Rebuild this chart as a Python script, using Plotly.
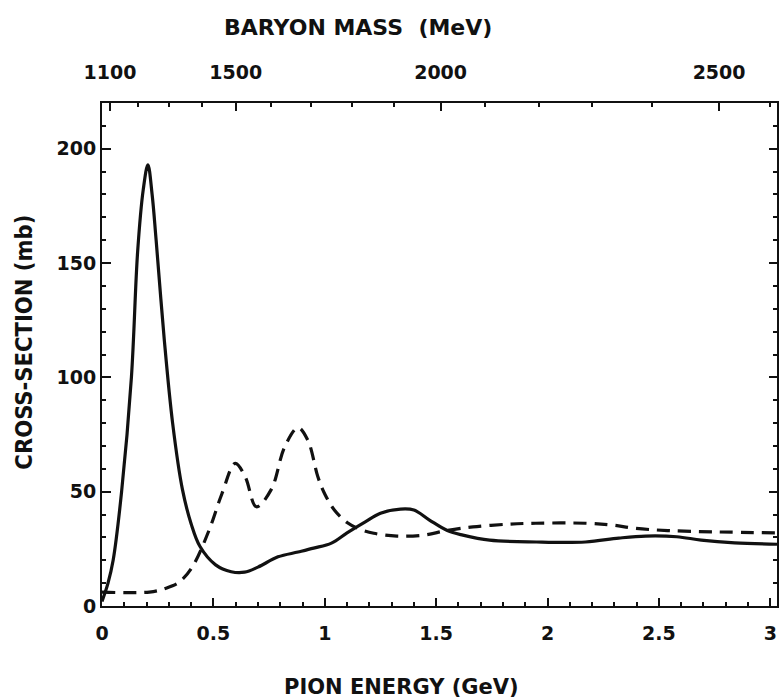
import plotly.graph_objects as go

# Solid curve (pion energy GeV, cross-section mb)
solid_x = [0, 0.027, 0.05, 0.088, 0.132, 0.16, 0.185, 0.206, 0.225, 0.243, 0.28, 0.317, 0.361,
           0.40, 0.44, 0.51, 0.58, 0.64, 0.70, 0.79, 0.88, 0.95, 1.03, 1.10, 1.18, 1.25, 1.34,
           1.40, 1.47, 1.55, 1.62, 1.74, 1.95, 2.17, 2.32, 2.44, 2.58, 2.69, 2.84, 3.03]
solid_y = [2, 10, 20, 50, 100, 155, 182, 193, 180, 160, 116, 80, 51,
           36, 26, 18, 15, 14.8, 17, 21.5, 23.6, 25.3, 27.5, 32, 36.7, 40.6, 42.4,
           42, 37.6, 33, 31, 28.8, 28, 28, 29.7, 30.6, 30.3, 28.8, 27.6, 27]

# Dashed curve
dash_x = [0, 0.213, 0.287, 0.347, 0.405, 0.48, 0.538, 0.598, 0.643, 0.693, 0.76, 0.82, 0.88,
          0.924, 0.969, 1.0, 1.043, 1.10, 1.147, 1.22, 1.324, 1.443, 1.547, 1.665, 1.827,
          1.947, 2.17, 2.29, 2.39, 2.54, 2.76, 3.03]
dash_y = [6.1, 6.1, 7.8, 10.5, 17, 33, 49, 62.4, 56.5, 43.4, 51, 69.6, 78,
          72.5, 56.5, 49, 42, 36.5, 34, 31.8, 30.6, 31, 33, 34.6, 35.8,
          36.2, 36.2, 35.4, 34, 33, 32.4, 32]

# Bottom axis ticks
x_tick_vals = [0, 0.5, 1, 1.5, 2, 2.5, 3]
x_tick_text = ["0", "0.5", "1", "1.5", "2", "2.5", "3"]
# Left axis ticks
y_tick_vals = [0, 50, 100, 150, 200]
y_tick_text = ["0", "50", "100", "150", "200"]
# Top axis: baryon mass labels at pion-energy positions
mass_labels = ["1100", "1500", "2000", "2500"]
mass_pos = [0.036, 0.60, 1.52, 2.77]
mass_minor_pos = [0.16, 0.30, 0.45, 0.76, 0.94, 1.12, 1.31, 1.72, 1.96, 2.20, 2.47, 3.0]

FONT = "DejaVu Sans"
CFONT = "DejaVu Sans Condensed, DejaVu Sans"
BLACK = "#111111"

fig = go.Figure()
fig.add_trace(go.Scatter(x=solid_x, y=solid_y, mode="lines",
                         line=dict(color=BLACK, width=3.2, shape="spline", smoothing=1.0),
                         showlegend=False, hoverinfo="skip"))
fig.add_trace(go.Scatter(x=dash_x, y=dash_y, mode="lines",
                         line=dict(color=BLACK, width=3.2, dash="13px,8px", shape="spline", smoothing=1.0),
                         showlegend=False, hoverinfo="skip"))
# invisible trace to anchor the top / right axes
fig.add_trace(go.Scatter(x=[0, 3], y=[0, 0], xaxis="x2", yaxis="y2", mode="none",
                         showlegend=False, hoverinfo="skip"))

tickfont = dict(family=FONT, size=19, color=BLACK, weight="bold")
xtitlefont = dict(family=FONT, size=21, color=BLACK, weight="bold")
toptitlefont = dict(family=FONT, size=22, color=BLACK, weight="bold")
ytitlefont = dict(family=CFONT, size=23.5, color=BLACK, weight="bold")

XR = [0, 3.03]

fig.update_layout(
    width=779, height=700,
    margin=dict(l=102, r=2, t=103, b=94, autoexpand=False),
    paper_bgcolor="white", plot_bgcolor="white",
    xaxis=dict(range=XR, tickmode="array", tickvals=x_tick_vals, ticktext=x_tick_text,
               ticks="inside", ticklen=8, tickwidth=2, tickcolor=BLACK,
               minor=dict(dtick=0.1, ticks="inside", ticklen=4, tickwidth=2, tickcolor=BLACK),
               showline=True, linewidth=2, linecolor=BLACK, showgrid=False, zeroline=False,
               tickfont=tickfont, ticklabelstandoff=9, ticklabeloverflow="allow",
               automargin=False),
    xaxis2=dict(range=XR, overlaying="x", side="top", tickmode="array",
                tickvals=mass_pos, ticktext=mass_labels,
                ticks="inside", ticklen=8, tickwidth=2, tickcolor=BLACK,
                minor=dict(tickmode="array", tickvals=mass_minor_pos, ticks="inside",
                           ticklen=4, tickwidth=2, tickcolor=BLACK),
                showline=True, linewidth=2, linecolor=BLACK, showgrid=False, zeroline=False,
                tickfont=tickfont, ticklabelstandoff=14, ticklabeloverflow="allow",
                automargin=False),
    yaxis=dict(range=[0, 220], tickmode="array", tickvals=y_tick_vals, ticktext=y_tick_text,
               ticks="inside", ticklen=9, tickwidth=2, tickcolor=BLACK,
               minor=dict(dtick=10, ticks="inside", ticklen=4, tickwidth=2, tickcolor=BLACK),
               showline=True, linewidth=2, linecolor=BLACK, showgrid=False, zeroline=False,
               tickfont=tickfont, ticklabelstandoff=0, automargin=False),
    yaxis2=dict(range=[0, 220], overlaying="y", side="right", tickmode="array",
                tickvals=y_tick_vals, showticklabels=False,
                ticks="inside", ticklen=8, tickwidth=2, tickcolor=BLACK,
                minor=dict(dtick=10, ticks="inside", ticklen=4, tickwidth=2, tickcolor=BLACK),
                showline=True, linewidth=2, linecolor=BLACK, showgrid=False, zeroline=False,
                automargin=False),
    annotations=[
        dict(text="BARYON MASS  (MeV)", x=0.379, y=1.151, xref="paper", yref="paper",
             showarrow=False, font=toptitlefont, xanchor="center", yanchor="middle"),
        dict(text="PION ENERGY (GeV)", x=0.443, y=-0.161, xref="paper", yref="paper",
             showarrow=False, font=xtitlefont, xanchor="center", yanchor="middle"),
        dict(text="CROSS-SECTION (mb)", x=-0.116, y=0.525, xref="paper", yref="paper",
             showarrow=False, textangle=-90, font=ytitlefont,
             xanchor="center", yanchor="middle"),
    ],
)

fig.write_html("out.html")
